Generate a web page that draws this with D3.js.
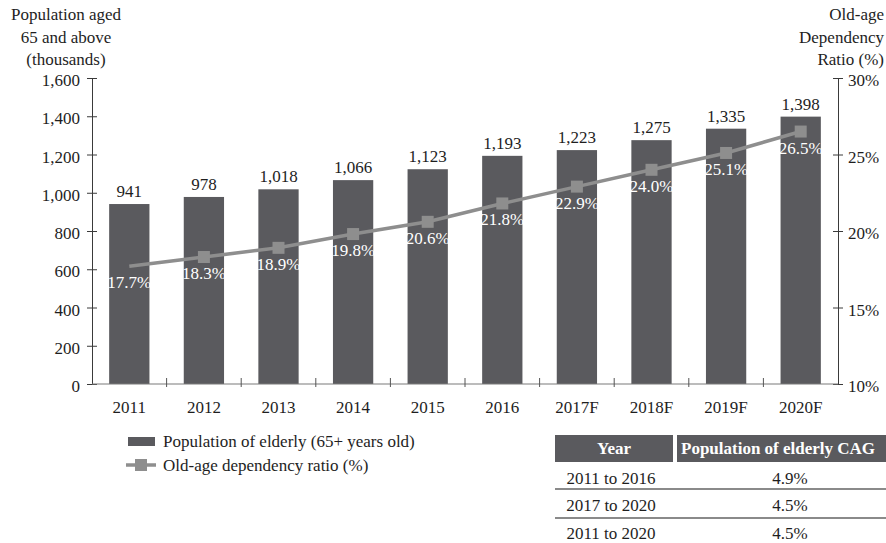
<!DOCTYPE html>
<html>
<head>
<meta charset="utf-8">
<script src="https://cdn.jsdelivr.net/npm/d3@7"></script>
<style>
  html, body { margin: 0; padding: 0; background: #fff; }
  svg, svg text { font-family: "Liberation Serif", "Times New Roman", "DejaVu Serif", serif; }
  svg { display: block; }
</style>
</head>
<body>
<svg id="chart" width="886" height="543"></svg>
<script>
// Elderly population (thousands) and old-age dependency ratio (%) by year
const years = ["2011", "2012", "2013", "2014", "2015", "2016", "2017F", "2018F", "2019F", "2020F"];
const population = [941, 978, 1018, 1066, 1123, 1193, 1223, 1275, 1335, 1398];
const dependencyRatio = [17.7, 18.3, 18.9, 19.8, 20.6, 21.8, 22.9, 24.0, 25.1, 26.5];
const leftTicks = [0, 200, 400, 600, 800, 1000, 1200, 1400, 1600];
const rightTicks = [10, 15, 20, 25, 30];

// CAGR summary table
const cagrHeader = ["Year", "Population of elderly CAG"];
const cagrPeriods = ["2011 to 2016", "2017 to 2020", "2011 to 2020"];
const cagrValues = ["4.9%", "4.5%", "4.5%"];

const svg = d3.select("#chart");
const plotLeft = 92, plotRight = 838, plotTop = 78, plotBottom = 384;
const fontSize = 17;
const serif = "Liberation Serif, Times New Roman, serif";
const barColor = "#5a5a5e";
const lineColor = "#8e8e8e";
const axisColor = "#3a3a3a";
const textColor = "#1e1e1e";

const x = d3.scaleBand().domain(years).range([plotLeft, plotRight]).paddingInner(0.46).paddingOuter(0.23);
const xb = d3.scaleBand().domain(years).range([plotLeft, plotRight]);
const yL = d3.scaleLinear().domain([0, 1600]).range([plotBottom, plotTop]);
const yR = d3.scaleLinear().domain([10, 30]).range([plotBottom, plotTop]);

// Bars
svg.append("g").selectAll("rect").data(years).join("rect")
  .attr("x", d => x(d))
  .attr("y", (d, i) => yL(population[i]))
  .attr("width", x.bandwidth())
  .attr("height", (d, i) => plotBottom - yL(population[i]))
  .attr("fill", barColor);

// Bar value labels
svg.append("g").selectAll("text").data(years).join("text")
  .attr("x", d => x(d) + x.bandwidth() / 2)
  .attr("y", (d, i) => yL(population[i]) - 7)
  .attr("text-anchor", "middle")
  .attr("font-size", fontSize)
  .attr("fill", textColor)
  .text((d, i) => d3.format(",")(population[i]));

// Left axis
const axL = d3.axisLeft(yL).tickValues(leftTicks).tickFormat(d3.format(",")).tickSizeInner(6).tickSizeOuter(0);
const gL = svg.append("g").attr("transform", `translate(${plotLeft},0)`).call(axL);
gL.attr("font-family", serif);
gL.select(".domain").attr("stroke", axisColor);
gL.selectAll(".tick line").attr("stroke", axisColor).attr("x2", 5).attr("x1", -5);
gL.selectAll(".tick text").attr("x", -12).attr("dy", "0.45em").attr("font-size", fontSize).attr("fill", textColor);

// Right axis
const axR = d3.axisRight(yR).tickValues(rightTicks).tickFormat(d => d + "%").tickSizeInner(6).tickSizeOuter(0);
const gR = svg.append("g").attr("transform", `translate(${plotRight},0)`).call(axR);
gR.attr("font-family", serif);
gR.select(".domain").attr("stroke", axisColor);
gR.selectAll(".tick line").attr("stroke", axisColor).attr("x1", -5).attr("x2", 5);
gR.selectAll(".tick text").attr("x", 10).attr("dy", "0.45em").attr("font-size", fontSize).attr("fill", textColor);

// Bottom axis with ticks at band boundaries
svg.append("line").attr("x1", plotLeft).attr("x2", plotRight).attr("y1", plotBottom).attr("y2", plotBottom)
  .attr("stroke", "#7a7a7a").attr("stroke-width", 1.2);
svg.append("g").selectAll("line").data(years.slice(1)).join("line")
  .attr("x1", d => xb(d)).attr("x2", d => xb(d))
  .attr("y1", plotBottom - 6).attr("y2", plotBottom + 3)
  .attr("stroke", "#555");
svg.append("g").selectAll("text").data(years).join("text")
  .attr("x", d => xb(d) + xb.bandwidth() / 2)
  .attr("y", plotBottom + 29)
  .attr("text-anchor", "middle")
  .attr("font-size", fontSize)
  .attr("fill", textColor)
  .text(d => d);

// Dependency ratio line
const cx = d => x(d) + x.bandwidth() / 2;
const line = d3.line().x((d, i) => cx(years[i])).y(d => yR(d));
svg.append("path").datum(dependencyRatio)
  .attr("d", line)
  .attr("fill", "none")
  .attr("stroke", lineColor)
  .attr("stroke-width", 3.5);

// Square markers (first point has none)
const ms = 12;
svg.append("g").selectAll("rect").data(dependencyRatio.slice(1)).join("rect")
  .attr("x", (d, i) => cx(years[i + 1]) - ms / 2)
  .attr("y", d => yR(d) - ms / 2)
  .attr("width", ms).attr("height", ms)
  .attr("fill", lineColor);

// Ratio labels
svg.append("g").selectAll("text").data(dependencyRatio).join("text")
  .attr("x", (d, i) => cx(years[i]))
  .attr("y", d => yR(d) + 22)
  .attr("text-anchor", "middle")
  .attr("font-size", fontSize)
  .attr("fill", "#fff")
  .text(d => d.toFixed(1) + "%");

// Axis titles
const leftTitle = ["Population aged", "65 and above", "(thousands)"];
svg.append("g").selectAll("text").data(leftTitle).join("text")
  .attr("x", 66).attr("y", (d, i) => 20 + i * 22.5)
  .attr("text-anchor", "middle").attr("font-size", fontSize).attr("fill", textColor)
  .text(d => d);
const rightTitle = ["Old-age", "Dependency", "Ratio (%)"];
svg.append("g").selectAll("text").data(rightTitle).join("text")
  .attr("x", 884).attr("y", (d, i) => 20 + i * 22.5)
  .attr("text-anchor", "end").attr("font-size", fontSize).attr("fill", textColor)
  .text(d => d);

// Legend
const lg = svg.append("g");
lg.append("rect").attr("x", 128).attr("y", 437).attr("width", 27).attr("height", 9).attr("fill", barColor);
lg.append("text").attr("x", 163).attr("y", 447).attr("font-size", fontSize).attr("fill", textColor)
  .text("Population of elderly (65+ years old)");
lg.append("line").attr("x1", 126).attr("x2", 156).attr("y1", 465).attr("y2", 465)
  .attr("stroke", lineColor).attr("stroke-width", 3.5);
lg.append("rect").attr("x", 135).attr("y", 459).attr("width", 12).attr("height", 12).attr("fill", lineColor);
lg.append("text").attr("x", 163).attr("y", 471).attr("font-size", fontSize).attr("fill", textColor)
  .text("Old-age dependency ratio (%)");

// CAGR table
const tb = svg.append("g");
tb.append("rect").attr("x", 555).attr("y", 435).attr("width", 118).attr("height", 27).attr("fill", barColor);
tb.append("rect").attr("x", 677).attr("y", 435).attr("width", 220).attr("height", 27).attr("fill", barColor);
tb.append("text").attr("x", 614).attr("y", 454).attr("text-anchor", "middle")
  .attr("font-size", fontSize).attr("font-weight", "bold").attr("fill", "#fff").text(cagrHeader[0]);
tb.append("text").attr("x", 681).attr("y", 454)
  .attr("font-size", fontSize).attr("font-weight", "bold").attr("fill", "#fff").text(cagrHeader[1]);
const rowBaselines = [484, 511, 539];
tb.selectAll("text.period").data(cagrPeriods).join("text").attr("class", "period")
  .attr("x", 611).attr("y", (d, i) => rowBaselines[i]).attr("text-anchor", "middle")
  .attr("font-size", fontSize).attr("fill", textColor).text(d => d);
tb.selectAll("text.val").data(cagrValues).join("text").attr("class", "val")
  .attr("x", 790).attr("y", (d, i) => rowBaselines[i]).attr("text-anchor", "middle")
  .attr("font-size", fontSize).attr("fill", textColor).text(d => d);
tb.selectAll("line").data([489, 518]).join("line")
  .attr("x1", 555).attr("x2", 886).attr("y1", d => d).attr("y2", d => d)
  .attr("stroke", "#8a8a8a").attr("stroke-width", 2);
</script>
</body>
</html>
